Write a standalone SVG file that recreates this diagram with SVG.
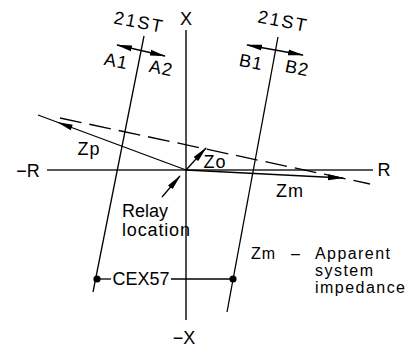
<svg xmlns="http://www.w3.org/2000/svg" width="409" height="347" viewBox="0 0 409 347">
<style>
.ln{stroke:#000;stroke-width:1.3;fill:none}
.ax{stroke:#222;stroke-width:1.6;fill:none}
.t{font-family:"Liberation Sans",Arial,sans-serif;font-size:18px;fill:#000}
.s{font-size:16px}
.dash{stroke:#000;stroke-width:1.3;fill:none;stroke-dasharray:22,8}
</style>
<defs>
<marker id="ah" markerUnits="userSpaceOnUse" markerWidth="16" markerHeight="8" refX="15" refY="4" orient="auto-start-reverse" viewBox="0 0 16 8">
<path d="M0,1 L16,4 L0,7 Z" fill="#000"/>
</marker>
</defs>
<g id="axes">
<line class="ax" x1="186" y1="30" x2="186" y2="320"/>
<line class="ax" x1="47" y1="170" x2="373" y2="170"/>
<text class="t" x="186" y="25" text-anchor="middle">X</text>
<text class="t" x="184" y="344" text-anchor="middle">−X</text>
<text class="t" x="384" y="176" text-anchor="middle">R</text>
<text class="t" x="28" y="177" text-anchor="middle">−R</text>
</g>
<g id="relayA">
<line class="ln" x1="144" y1="36" x2="93" y2="292"/>
<text class="t" transform="translate(138,28) rotate(11)" text-anchor="middle" letter-spacing="2">21ST</text>
<line class="ln" x1="117" y1="45" x2="165" y2="56" marker-start="url(#ah)" marker-end="url(#ah)"/>
<text class="t" transform="translate(115,67) rotate(11)" text-anchor="middle" letter-spacing="1">A1</text>
<text class="t" transform="translate(160,74) rotate(11)" text-anchor="middle" letter-spacing="1">A2</text>
</g>
<g id="relayB">
<line class="ln" x1="278" y1="37" x2="227" y2="312"/>
<text class="t" transform="translate(282,27) rotate(11)" text-anchor="middle" letter-spacing="2">21ST</text>
<line class="ln" x1="247" y1="45" x2="303" y2="55" marker-start="url(#ah)" marker-end="url(#ah)"/>
<text class="t" transform="translate(250,68) rotate(11)" text-anchor="middle" letter-spacing="1">B1</text>
<text class="t" transform="translate(296,74) rotate(11)" text-anchor="middle" letter-spacing="1">B2</text>
</g>
<g id="connectors">
<line class="ln" x1="186" y1="170" x2="38" y2="115"/>
<path d="M57,122 L72.7,124.7 L70.7,130.3 Z" fill="#000"/>
<line class="dash" x1="60" y1="118" x2="370" y2="184"/>
<line class="ln" x1="186" y1="170" x2="206" y2="148" marker-end="url(#ah)"/>
<line class="ln" x1="186" y1="170" x2="343" y2="178" marker-end="url(#ah)"/>
<line class="ln" x1="162" y1="197" x2="180" y2="176" marker-end="url(#ah)"/>
<line class="ln" x1="97" y1="279" x2="111" y2="279"/>
<line class="ln" x1="171" y1="279" x2="233" y2="279"/>
<circle cx="97" cy="279" r="3.6" fill="#000"/>
<circle cx="233" cy="279" r="3.6" fill="#000"/>
</g>
<g id="labels">
<text class="t" x="89" y="155" text-anchor="middle" letter-spacing="1">Zp</text>
<text class="t" x="215" y="168" text-anchor="middle" letter-spacing="1">Zo</text>
<text class="t" x="290" y="197" text-anchor="middle" letter-spacing="1">Zm</text>
<text class="t" x="122" y="217">Relay</text>
<text class="t" x="122" y="236" textLength="68">location</text>
<text class="t" x="141" y="285" text-anchor="middle" textLength="57">CEX57</text>
<text class="t s" x="251" y="259" letter-spacing="1">Zm</text>
<text class="t s" x="291" y="259">–</text>
<text class="t s" x="315" y="259" textLength="75">Apparent</text>
<text class="t s" x="315" y="276" textLength="58">system</text>
<text class="t s" x="315" y="293" textLength="90">impedance</text>
</g>
</svg>
